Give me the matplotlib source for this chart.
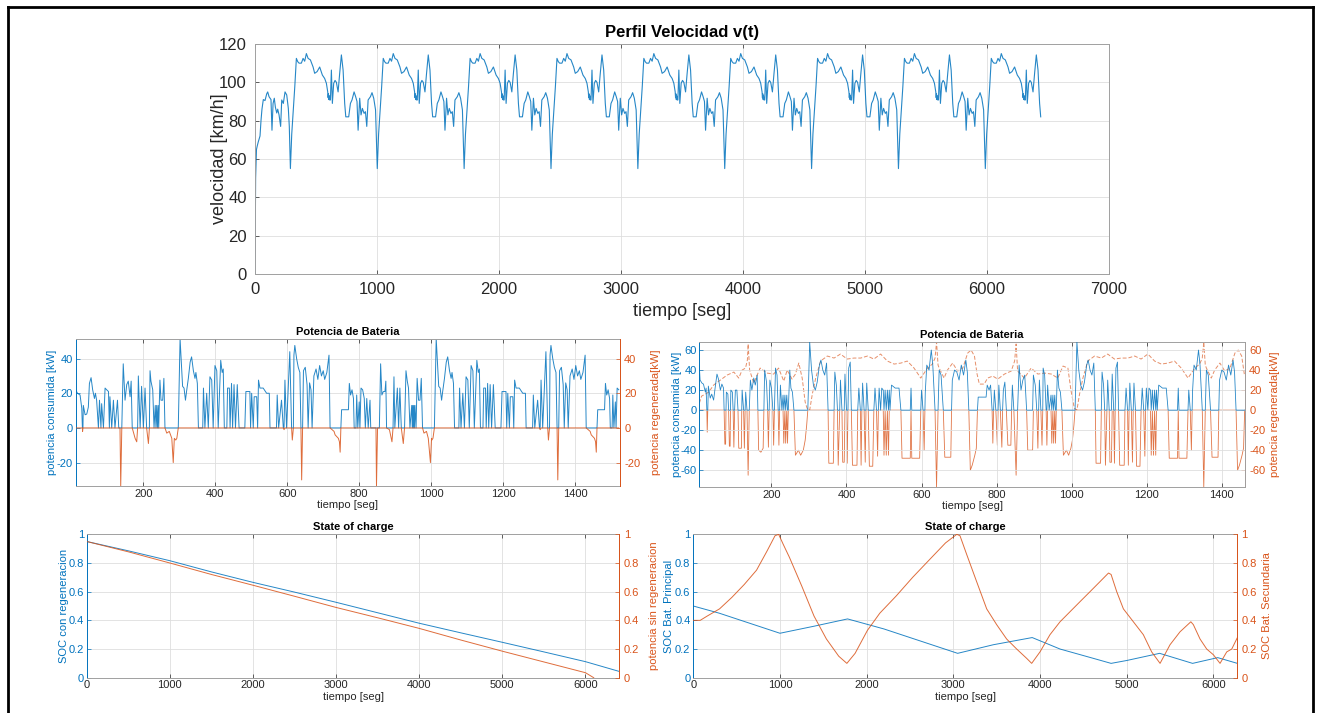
import matplotlib.pyplot as plt
import numpy as np
from matplotlib.lines import Line2D
from matplotlib.ticker import FuncFormatter

plt.rcParams['font.family'] = ['Liberation Sans', 'DejaVu Sans']
plt.rcParams['axes.unicode_minus'] = False

BLUE = '#0072BD'
ORANGE = '#D95319'

# ---------------- velocity profile (top) ----------------
# first stretch before the first dip
vel_start = [(0, 0), (5, 50), (12, 65), (19, 67), (27, 69), (41, 72), (49, 80), (57, 86),
             (68, 91), (82, 90.5), (96, 94), (104, 95), (115, 92.5), (123, 91.7), (131, 91),
             (139, 75), (148, 89), (158, 91.7), (167, 87), (178, 84), (186, 86), (197, 83),
             (210, 77), (219, 90.8), (232, 89), (246, 95), (260, 93.4), (273, 86.4), (281, 77)]
# one drive cycle, seconds after each dip
vel_cycle = [(0, 55), (11, 73), (22, 83.8), (36, 97.7), (49, 112.5), (60, 110.8), (71, 110),
             (90, 110), (104, 112.5), (117, 111), (131, 115), (145, 112.5), (164, 111.7),
             (186, 108), (199, 104.7), (219, 105.6), (240, 108), (262, 103.8), (281, 102),
             (295, 99.5), (306, 95), (309, 92), (312, 94), (315, 91), (318, 93), (322, 90.8),
             (328, 90.8), (336, 106.4), (344, 89), (355, 99.5), (366, 101), (377, 100),
             (391, 95), (404, 104.7), (418, 114.3), (432, 106.4), (445, 89), (454, 82),
             (478, 82), (492, 89), (505, 90.8), (522, 95), (535, 92.5), (546, 90), (555, 75),
             (568, 91.7), (579, 83), (590, 86.4), (604, 83.8), (615, 84.7), (626, 77),
             (637, 90.8), (656, 92.5), (669, 94.6), (683, 91.7), (698, 85.6)]
dips = [290, 1002, 1714, 2426, 3138, 3850, 4562, 5274, 5986]
t_end = 6440

# ---------------- battery power (middle left) ----------------
pwrL_start = [(12, 22), (16.7, 20), (24, 19), (28.7, 11.4), (30.5, 0), (31, -2), (32, 0), (33, 13),
              (38, 7.6), (42.6, 8), (47, 12), (50, 25.7), (54.6, 29), (59, 22), (64, 17),
              (66.7, 20), (70, 16), (75, 0), (78, 16), (82, 0), (84, 14), (89, 0), (93.5, 23),
              (98, 22), (103, 21), (105.5, 0), (107, 18), (112, 0), (116.7, 16), (121, 0),
              (128, 16), (131.5, 0), (135, 0), (137, -33.5), (140, 0), (144, 37), (149, 16),
              (153.7, 25), (158, 27), (163, 18), (166, 27), (169, 0), (177, -6), (181.5, -8),
              (184, 0), (186, 30), (191, 0), (195, 24), (200, 0), (204.6, 23), (209, 0),
              (214, -9), (216.7, 0), (218.5, 33), (221, 27), (226, 22), (229.6, 0), (233, 13),
              (235, 0), (237, 13), (239, 0), (241, 13), (242.6, 0), (246, 27.6), (249, 16),
              (253.7, 16), (257, 28.6), (260, 0), (265, -3), (272, -2), (279, -6), (283, -20),
              (286, -6)]
pwrL_cycle = [(0, -7), (3, -6), (7, 0), (12, 51.5), (16.5, 34), (19, 24), (23, 23), (27, 16),
              (30, 21), (35, 28.6), (40, 38), (44, 41), (49, 33), (53.5, 28.6), (56, 32),
              (60, 25.7), (63, 0), (75, 0), (77, 23), (81, 0), (86, 20), (90.5, 0), (95, 29.5),
              (100, 27.6), (104, 0), (109, 36), (114, 33), (118, 0), (125, 39), (129, 32),
              (132, 34), (135, 0), (142, 0), (144, 23), (149, 23), (151, 0), (155, 25.7),
              (158, 0), (162, 25), (166, 0), (171, 25), (176, 0), (192, 0), (195, 21),
              (206, 21), (208, 0), (211, 20), (215.5, 0), (218, 18), (225, 18), (227.6, 0),
              (230, 27.6), (234, 23), (243, 23), (252.6, 20), (260, 20), (262, 0), (280, 0),
              (282, 19), (286, 0), (294, 16), (299, 0), (301, -1), (303.5, 27.6), (308, 0),
              (317, 44), (322, 0), (324, -7), (327, 0), (328.5, 42), (331, 47.6), (336, 40),
              (340.5, 35), (345, 32), (348, 0), (350, -30), (352.6, 0), (355, 33), (360, 35),
              (365, 25), (368, 0), (372, 26), (376, 22), (379, 0), (384, 30), (390, 34),
              (395, 28), (400, 36), (405, 30), (410, 33), (414, 28), (420, 32), (426, 42),
              (429, 0), (440, -2), (443, -4), (452, -6), (455, -8), (457, -14), (459, 0),
              (461, 10.5), (480, 10.5), (482.5, 25.7), (486, 19), (490, 22), (494, 17),
              (496, 0), (501, 0), (503, 19), (506, 0), (510, 15), (512, 0), (515, 23),
              (519.5, 22), (524, 17), (527, 0), (531, 17), (535, 0), (540, 16), (542, 0),
              (556.6, 0), (558, -33.5), (561, 0), (566, 0), (569.5, 37), (573, 19), (577, 21),
              (581.6, 21), (584, 27), (586, 0), (594, -1), (597, -4), (601, -8), (604, 0),
              (606.6, 29.5), (609, 0), (616, 23), (619.5, 0), (623, 23), (627, 0), (632.5, -9),
              (636, 0), (640, 33), (643.6, 27), (647, 23), (651, 0), (656, 13), (657.5, 0),
              (659, 13), (660.5, 0), (662, 13), (663.5, 0), (665, 13), (668, 0), (671, 28.6),
              (675, 16), (679, 16), (682.5, 28.6), (686, 0), (690, -3), (697, -2), (702, -6),
              (708, -20), (711, -6)]

# ---------------- battery power (middle right) ----------------
pwrR_start = [(8, 44), (10, 30), (15, 27), (19, 26), (24, 18), (26, 22), (28, 0), (29, -22),
              (30.5, 0), (32, 24), (37, 12), (41, 16), (46, 10), (50, 22), (55, 36), (59, 31),
              (64, 20), (68, 26), (72.5, 22), (74, 0), (76, -34), (78, -34), (79, 0), (80, 18),
              (84, 16), (86, 0), (88, -36), (90, -36), (91, 0), (92, 20), (96, 18), (98, 0),
              (100, -37), (102, 0), (104, 20), (108, 20), (111, 0), (113, -38), (120, -38),
              (121, 0), (122, 20), (126, 0), (128, -38), (130, 0), (131.5, 18), (135, 0),
              (138, -65), (141, 0), (144, 30), (148, 20), (153, 32), (157, 25), (162, 35),
              (164, 0), (166, -40), (172, -42), (178, -38), (180, 0), (182, 40), (187, 28),
              (190, 0), (192, -37), (194, 0), (196, 30), (200, 22), (204, 0), (206, -35),
              (208, 0), (211, 42), (215, 35), (218, 0), (220, -35), (222, 0), (224, 25),
              (228, 0), (231, 15), (233, -33), (236, 15), (238, -33), (241, 15), (243, -33),
              (245, 0), (249, 40), (252, 22), (256, 18), (260, 0), (264, -45), (272, -40),
              (278, -45), (285, -40)]
pwrR_cycle = [(0, -30), (4, -15), (7, 0), (12, 68), (17, 40), (22, 25), (27, 20), (32, 28),
              (38, 45), (42, 50), (47, 40), (52, 35), (57, 47), (61, 0), (63, -53), (75, -53),
              (77, 0), (79, 38), (83, 25), (86, 0), (88, -55), (92, 0), (94, 30), (98, 0),
              (100, -52), (104, -52), (106, 36), (110, 0), (112, -53), (114, 0), (116, 42),
              (120, 48), (123, 0), (126, -55), (138, -55), (140, 0), (143, 22), (147, 0),
              (149, -55), (151, 0), (153, 27), (157, 0), (160, -52), (162, 0), (164, 27),
              (168, 0), (171, -56), (180, -56), (183, 0), (186, 22), (190, 0), (193, -46),
              (195, 0), (197, 22), (201, 0), (204, 22), (208, 20), (210, -45), (213, 20),
              (216, -45), (219, 20), (222, -45), (224, 20), (226, 0), (230, 25), (240, 22),
              (250, 22), (255, 0), (258, -48), (280, -48), (282, 22), (284, -48), (305, -48),
              (308, 0), (310, 20), (314, 0), (317, -40), (319, 0), (320, 18), (324, 45),
              (330, 40), (336, 60), (340, 45), (346, 0), (350, -77), (354, 0), (357, 40),
              (362, 35), (368, 0), (372, -47), (388, -47), (390, 0), (392, 30), (398, 40),
              (404, 38), (410, 30), (416, 45), (422, 35), (428, 50), (432, 38), (436, 0),
              (440, -60), (445, -55), (452, -45), (456, -38), (459, 0), (461, 13), (482, 13),
              (485, 25), (490, 20), (494, 25), (498, 0), (500, -33), (502, 0), (504, 20),
              (508, 0), (512, -35), (514, 0), (516, 25), (520, 0), (524, -37), (526, 0),
              (528, 20), (532, 28), (536, 0), (540, -35), (548, -35), (550, 0), (552, 25),
              (556, 0), (562, -65), (566, 0), (570, 45), (575, 20), (580, 30), (585, 35),
              (590, 0), (593, -40), (606, -40), (608, 35), (613, 25), (617, 0), (620, -38),
              (622, 0), (624, 30), (628, 0), (631, -35), (633, 0), (634, 42), (638, 35),
              (642, 0), (644, -35), (646, 25), (650, 0), (655, 15), (657, -33), (660, 15),
              (662, -33), (665, 15), (667, -33), (669, 0), (672, 40), (676, 22), (680, 18),
              (684, 0), (688, -45), (696, -40), (702, -45), (708, -38)]
# dashed regenerative curve
regR_start = [(8, 7), (14, 14), (24, 16), (33, 18), (46, 25), (64, 30), (82, 35), (100, 38),
              (113, 32), (122, 40), (131, 42), (136, 50), (138, 66), (142, 40), (153, 27),
              (170, 42), (188, 37), (206, 36), (219, 42), (233, 29), (242, 40), (255, 31),
              (264, 36), (273, 47), (282, 32), (290, 8)]
regR_cycle = [(5, 2), (12, 0), (19, 16), (28, 32), (41, 49), (59, 54), (77, 52), (94, 56),
              (112, 51), (130, 52), (148, 52), (166, 54), (183, 51), (201, 56), (219, 49),
              (237, 46), (255, 47), (272, 49), (290, 42), (308, 32), (317, 37), (326, 42),
              (339, 46), (346, 52), (350, 68), (354, 45), (357, 42), (370, 32), (379, 40),
              (393, 47), (406, 39), (420, 42), (433, 57), (442, 60), (451, 54), (458, 36),
              (464, 26), (477, 26), (486, 32), (500, 34), (513, 31), (531, 36), (549, 39),
              (558, 49), (562, 66), (566, 39), (584, 32), (602, 42), (620, 36), (638, 37),
              (656, 36), (673, 32), (687, 44), (700, 42), (708, 20)]
pwr_cycles = [290, 1002]

# ---------------- state of charge ----------------
socL_con = [(0, 0.95), (500, 0.885), (1000, 0.816), (1500, 0.738), (2000, 0.665), (2500, 0.597),
            (3000, 0.526), (3500, 0.453), (4000, 0.38), (4500, 0.313), (5000, 0.247),
            (5500, 0.18), (6000, 0.112), (6400, 0.045)]
socL_sin = [(0, 0.95), (500, 0.878), (1000, 0.80), (1500, 0.72), (2000, 0.645), (2500, 0.568),
            (3000, 0.49), (3500, 0.418), (4000, 0.344), (4500, 0.263), (5000, 0.185),
            (5500, 0.11), (6000, 0.035), (6100, 0.0)]
socR_main = [(0, 0.5), (300, 0.45), (600, 0.39), (1000, 0.31), (1400, 0.36), (1780, 0.41),
             (2200, 0.34), (2600, 0.26), (3050, 0.17), (3462, 0.23), (3910, 0.28), (4231, 0.2),
             (4615, 0.135), (4820, 0.1), (5000, 0.12), (5380, 0.17), (5760, 0.10), (6050, 0.14),
             (6277, 0.10)]
socR_sec = [(0, 0.4), (80, 0.4), (161, 0.43), (303, 0.48), (445, 0.56), (588, 0.65), (730, 0.75),
            (848, 0.88), (943, 0.99), (985, 1.0), (1038, 0.93), (1109, 0.84), (1251, 0.64),
            (1393, 0.43), (1536, 0.27), (1678, 0.15), (1772, 0.1), (1867, 0.17), (2009, 0.33),
            (2152, 0.45), (2341, 0.57), (2531, 0.70), (2720, 0.82), (2910, 0.94), (3040, 1.0),
            (3077, 0.99), (3154, 0.86), (3269, 0.67), (3385, 0.48), (3500, 0.37), (3615, 0.27),
            (3731, 0.2), (3846, 0.135), (3904, 0.1), (4000, 0.18), (4115, 0.3), (4231, 0.39),
            (4346, 0.46), (4461, 0.53), (4577, 0.6), (4692, 0.67), (4790, 0.73), (4820, 0.72),
            (4885, 0.6), (4962, 0.48), (5077, 0.39), (5192, 0.3), (5288, 0.18), (5385, 0.1),
            (5500, 0.23), (5615, 0.32), (5740, 0.39), (5769, 0.37), (5846, 0.27), (5923, 0.2),
            (6000, 0.16), (6077, 0.1), (6154, 0.18), (6212, 0.2), (6277, 0.28)]


def build(start, cycle, starts, t_max):
    # start stretch followed by the repeated cycle
    pts = list(start)
    for s in starts:
        pts += [(s + o, val) for o, val in cycle if s + o <= t_max]
    a = np.array(pts, dtype=float)
    return a[:, 0], a[:, 1]


def style(ax, fs, pad=2):
    ax.grid(True, color='#dedede', linewidth=0.6)
    ax.set_axisbelow(True)
    ax.tick_params(direction='in', labelsize=fs, length=3, width=0.5, colors='#262626',
                   top=True, pad=pad)
    for s in ax.spines.values():
        s.set_color('#a0a0a0')
        s.set_linewidth(0.7)


def twin_colors(ax, ax2, fs):
    ax.tick_params(axis='y', colors=BLUE, labelsize=fs)
    ax2.tick_params(axis='y', colors=ORANGE, direction='in', length=3, width=0.5, labelsize=fs, pad=3)
    ax2.spines['left'].set_visible(False)
    ax2.spines['right'].set_color(ORANGE)
    ax2.spines['right'].set_linewidth(0.7)
    ax2.spines['top'].set_visible(False)
    ax2.spines['bottom'].set_visible(False)
    ax.spines['left'].set_color(BLUE)


fmt = FuncFormatter(lambda v, p: f'{v:g}')

fig = plt.figure(figsize=(13.22, 7.13), dpi=100)

# top plot
ax = fig.add_axes([0.1929, 0.6157, 0.646, 0.3226])
t_v, v_v = build(vel_start, vel_cycle, dips, t_end)
ax.plot(t_v, v_v, color=BLUE, lw=0.8, alpha=0.85)
ax.set_xlim(0, 7000)
ax.set_ylim(0, 120)
ax.set_xticks(range(0, 7001, 1000))
ax.set_yticks(range(0, 121, 20))
style(ax, 12, pad=6)
ax.set_title('Perfil Velocidad v(t)', fontsize=12, fontweight='bold', pad=5)
ax.set_xlabel('tiempo [seg]', fontsize=13, color='#262626')
ax.set_ylabel('velocidad [km/h]', fontsize=13, color='#262626')
ax.xaxis.set_label_coords(0.5, -0.125)
ax.yaxis.set_label_coords(-0.032, 0.5)

# middle left
ax = fig.add_axes([0.0573, 0.3184, 0.4117, 0.2066])
ax2 = ax.twinx()
t_p, p = build(pwrL_start, pwrL_cycle, pwr_cycles, 1525)
ax.plot(t_p, np.maximum(p, 0), color=BLUE, lw=0.7, alpha=0.85)
ax2.plot(t_p, np.minimum(p, 0), color=ORANGE, lw=0.7, alpha=0.85)
for a in (ax, ax2):
    a.set_ylim(-33.5, 51.5)
    a.set_yticks([-20, 0, 20, 40])
ax.set_xlim(12, 1525)
ax.set_xticks(range(200, 1401, 200))
style(ax, 8)
twin_colors(ax, ax2, 8)
ax.set_title('Potencia de Bateria', fontsize=8, fontweight='bold', pad=3)
ax.set_xlabel('tiempo [seg]', fontsize=8, color='#262626', labelpad=1)
ax.set_ylabel('potencia consumida [kW]', fontsize=8, color=BLUE, labelpad=0)
ax2.set_ylabel('potencia regenerada[kW]', fontsize=8, color=ORANGE, labelpad=8)

# middle right
ax = fig.add_axes([0.529, 0.3166, 0.4128, 0.2037])
ax2 = ax.twinx()
t_p, p = build(pwrR_start, pwrR_cycle, pwr_cycles, 1462)
t_r, r = build(regR_start, regR_cycle, pwr_cycles, 1462)
ax2.plot(t_p, np.minimum(p, 0), color=ORANGE, lw=0.6, alpha=0.8)
ax2.plot(t_r, r, color=ORANGE, lw=0.7, ls=(0, (4, 2)), alpha=0.65)
ax.plot(t_p, np.maximum(p, 0), color=BLUE, lw=0.6, alpha=0.85, zorder=5)
ax.set_zorder(ax2.get_zorder() + 1)
ax.patch.set_visible(False)
for a in (ax, ax2):
    a.set_ylim(-77, 68)
    a.set_yticks([-60, -40, -20, 0, 20, 40, 60])
ax.set_xlim(8, 1462)
ax.set_xticks(range(200, 1401, 200))
style(ax, 8)
twin_colors(ax, ax2, 8)
ax.set_title('Potencia de Bateria', fontsize=8, fontweight='bold', pad=3)
ax.set_xlabel('tiempo [seg]', fontsize=8, color='#262626', labelpad=1)
ax.set_ylabel('potencia consumida [kW]', fontsize=8, color=BLUE, labelpad=-1)
ax2.set_ylabel('potencia regenerada[kW]', fontsize=8, color=ORANGE, labelpad=3)

# bottom left
ax = fig.add_axes([0.0656, 0.0495, 0.403, 0.2011])
ax2 = ax.twinx()
a1 = np.array(socL_con)
a2 = np.array(socL_sin)
ax.plot(a1[:, 0], a1[:, 1], color=BLUE, lw=0.7, alpha=0.85)
ax2.plot(a2[:, 0], a2[:, 1], color=ORANGE, lw=0.7, alpha=0.85)
for a in (ax, ax2):
    a.set_ylim(0, 1)
    a.set_yticks(np.arange(0, 1.01, 0.2))
    a.yaxis.set_major_formatter(fmt)
ax.set_xlim(0, 6410)
ax.set_xticks(range(0, 6001, 1000))
style(ax, 8)
twin_colors(ax, ax2, 8)
ax.set_title('State of charge', fontsize=8, fontweight='bold', pad=3)
ax.set_xlabel('tiempo [seg]', fontsize=8, color='#262626', labelpad=1)
ax.set_ylabel('SOC con regeneracion', fontsize=8, color=BLUE, labelpad=0)
ax2.set_ylabel('potencia sin regeneracion', fontsize=8, color=ORANGE, labelpad=7)

# bottom right
ax = fig.add_axes([0.5244, 0.0495, 0.4116, 0.2011])
ax2 = ax.twinx()
a1 = np.array(socR_main)
a2 = np.array(socR_sec)
ax.plot(a1[:, 0], a1[:, 1], color=BLUE, lw=0.7, alpha=0.85)
ax2.plot(a2[:, 0], a2[:, 1], color=ORANGE, lw=0.7, alpha=0.85)
for a in (ax, ax2):
    a.set_ylim(0, 1)
    a.set_yticks(np.arange(0, 1.01, 0.2))
    a.yaxis.set_major_formatter(fmt)
ax.set_xlim(0, 6277)
ax.set_xticks(range(0, 6001, 1000))
style(ax, 8)
twin_colors(ax, ax2, 8)
ax.set_title('State of charge', fontsize=8, fontweight='bold', pad=3)
ax.set_xlabel('tiempo [seg]', fontsize=8, color='#262626', labelpad=1)
ax.set_ylabel('SOC Bat. Principal', fontsize=8, color=BLUE, labelpad=1)
ax2.set_ylabel('SOC Bat. Secundaria', fontsize=8, color=ORANGE, labelpad=4)

# black frame round the picture
x0, x1, y1 = 8 / 1322, 1313 / 1322, 1 - 7 / 713
for xs, ys in [([x0, x0], [0, y1]), ([x0, x1], [y1, y1]), ([x1, x1], [0, y1])]:
    fig.add_artist(Line2D(xs, ys, transform=fig.transFigure, color='black', lw=2))

fig.savefig('out.png', dpi=100)
